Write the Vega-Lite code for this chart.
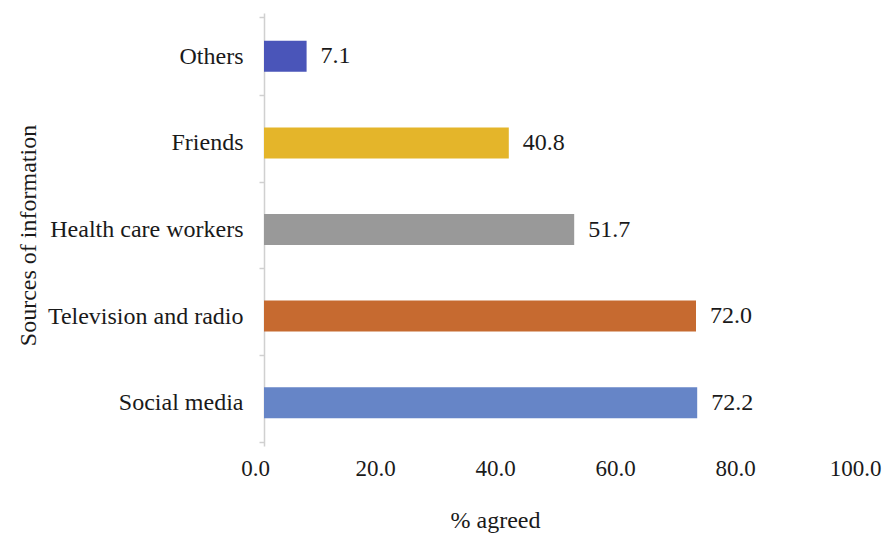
{
  "$schema": "https://vega.github.io/schema/vega-lite/v6.json",
  "autosize": {"type": "none"},
  "width": 600,
  "height": 433,
  "padding": {"left": 264, "top": 13, "right": 19, "bottom": 92},
  "background": "white",
  "config": {
    "view": {"stroke": null},
    "font": "Liberation Serif",
    "text": {"font": "Liberation Serif"}
  },
  "data": {
    "values": [
      {"source": "Others", "pct": 7.1, "color": "#4a55b9"},
      {"source": "Friends", "pct": 40.8, "color": "#e4b52a"},
      {"source": "Health care workers", "pct": 51.7, "color": "#999999"},
      {"source": "Television and radio", "pct": 72.0, "color": "#c66a30"},
      {"source": "Social media", "pct": 72.2, "color": "#6685c7"}
    ]
  },
  "encoding": {
    "y": {
      "field": "source",
      "type": "nominal",
      "sort": null,
      "title": "Sources of information",
      "axis": {
        "tickBand": "extent",
        "domainColor": "#d0d0d0",
        "domainWidth": 1.5,
        "tickColor": "#d0d0d0",
        "tickWidth": 1.5,
        "tickSize": 5,
        "labelPadding": 16,
        "labelLimit": 400,
        "labelFont": "Liberation Serif",
        "labelFontSize": 24,
        "labelColor": "#1a1a1a",
        "titleFont": "Liberation Serif",
        "titleFontSize": 24,
        "titleFontWeight": "normal",
        "titleColor": "#1a1a1a",
        "titleAngle": -90,
        "titleX": -236,
        "titleY": 222,
        "titleAlign": "center",
        "titleBaseline": "middle"
      }
    },
    "x": {
      "field": "pct",
      "type": "quantitative",
      "scale": {"domain": [0, 100], "nice": false},
      "title": "% agreed",
      "axis": {
        "values": [0, 20, 40, 60, 80, 100],
        "format": ".1f",
        "domain": false,
        "ticks": false,
        "grid": false,
        "labelFlush": false,
        "labelOverlap": false,
        "labelPadding": 11,
        "labelOffset": -9,
        "labelFont": "Liberation Serif",
        "labelFontSize": 23,
        "labelColor": "#1a1a1a",
        "titleFont": "Liberation Serif",
        "titleFontSize": 24,
        "titleFontWeight": "normal",
        "titleColor": "#1a1a1a",
        "titleX": 231,
        "titleY": 74,
        "titleAlign": "center",
        "titleBaseline": "middle"
      }
    }
  },
  "layer": [
    {
      "mark": {"type": "bar", "size": 31},
      "encoding": {
        "color": {"field": "color", "type": "nominal", "scale": null, "legend": null}
      }
    },
    {
      "mark": {"type": "text", "align": "left", "baseline": "middle", "dx": 14, "fontSize": 24, "font": "Liberation Serif", "color": "#1a1a1a"},
      "encoding": {
        "text": {"field": "pct", "type": "quantitative", "format": ".1f"}
      }
    }
  ]
}
